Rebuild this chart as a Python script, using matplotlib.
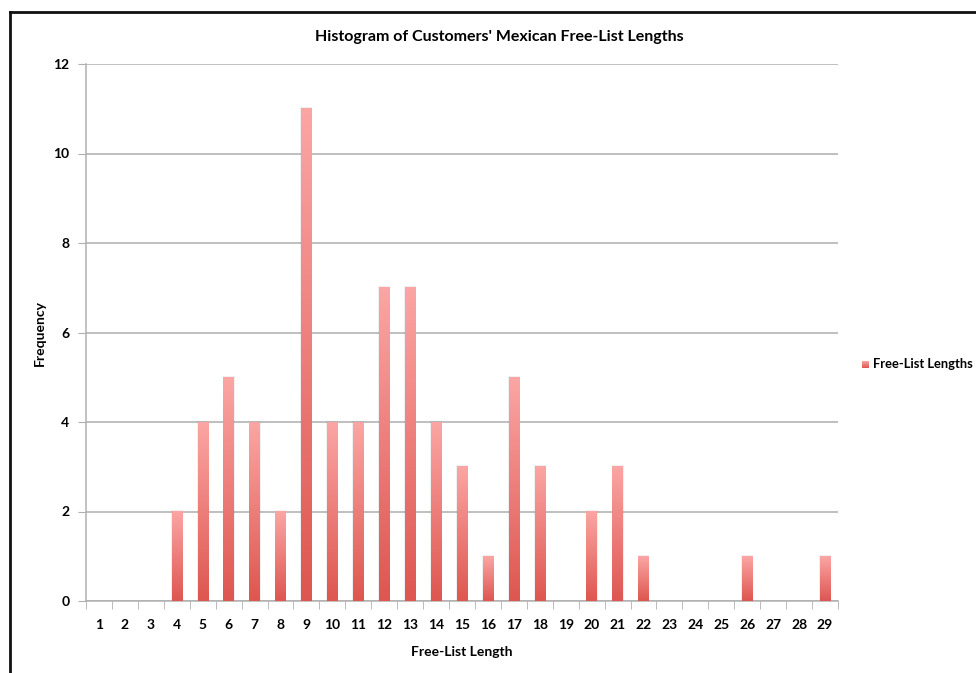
import numpy as np
import matplotlib
matplotlib.use("Agg")
import matplotlib.pyplot as plt
from matplotlib.lines import Line2D
from matplotlib.patches import Rectangle
from matplotlib.colors import LinearSegmentedColormap

# Free-list lengths and how many customers gave each length
lengths = list(range(1, 30))
frequency = [0, 0, 0, 2, 4, 5, 4, 2, 11, 4, 4, 7, 7, 4, 3, 1, 5, 3, 0, 2, 3, 1,
             0, 0, 0, 1, 0, 0, 1]
y_ticks = [0, 2, 4, 6, 8, 10, 12]

title = "Histogram of Customers' Mexican Free-List Lengths"
x_label = "Free-List Length"
y_label = "Frequency"
series_name = "Free-List Lengths"

plt.rcParams["font.family"] = ["Lato", "DejaVu Sans"]
plt.rcParams["font.weight"] = "bold"

W, H = 976, 673
fig = plt.figure(figsize=(W / 100, H / 100), dpi=100)
ax = fig.add_axes([86 / W, 1 - 601 / H, (838 - 86) / W, (601 - 64) / H])

grad = LinearSegmentedColormap.from_list("bar", ["#DE5650", "#FBA6A4"])
gradient = np.linspace(0, 1, 256).reshape(-1, 1)

bar_w = 0.4
n = len(lengths)
for i, (x, f) in enumerate(zip(lengths, frequency)):
    if f <= 0:
        continue
    ax.imshow(gradient, cmap=grad, origin="lower", aspect="auto",
              extent=(i - bar_w / 2, i + bar_w / 2, 0, f), zorder=3,
              interpolation="bilinear")
    ax.add_patch(Rectangle((i - bar_w / 2 - 0.03, 0), bar_w + 0.06, f + 0.03,
                           facecolor="#000000", alpha=0.06, linewidth=0, zorder=2))

ax.set_xlim(-0.5, n - 0.5)
ax.set_ylim(0, 12)
ax.set_yticks(y_ticks)
ax.set_yticklabels([str(v) for v in y_ticks], fontsize=10, fontweight="bold")
ax.set_xticks(range(n))
ax.set_xticklabels([str(v) for v in lengths], fontsize=10, fontweight="bold")
ax.set_xticks(np.arange(-0.5, n, 1), minor=True)
ax.tick_params(axis="x", which="major", length=0, pad=13)
ax.tick_params(axis="x", which="minor", length=6, color="#B0B0B0", direction="out")
ax.tick_params(axis="y", which="major", length=6, color="#B0B0B0", pad=6)

ax.grid(axis="y", color="#ADADAD", linewidth=1.1, zorder=0)
ax.set_axisbelow(True)
for side in ("top", "right"):
    ax.spines[side].set_visible(False)
ax.spines["left"].set_color("#B0B0B0")
ax.spines["bottom"].set_color("#B0B0B0")
ax.spines["left"].set_linewidth(1.1)
ax.spines["bottom"].set_linewidth(1.1)

fig.text(499 / W, 1 - 37 / H, title, fontsize=11.5, fontweight="bold",
         ha="center", va="center")
ax.set_xlabel(x_label, fontsize=10, fontweight="bold")
ax.set_ylabel(y_label, fontsize=10, fontweight="bold")
ax.xaxis.set_label_coords(0.5, (601 - 652) / 537)
ax.yaxis.set_label_coords((40 - 86) / 752, 0.5)
ax.xaxis.label.set_va("center")
ax.yaxis.label.set_va("center")

# Legend marker with the same gradient, placed to the right of the plot
lax = fig.add_axes([862 / W, 1 - 368 / H, 7 / W, 7 / H])
lax.imshow(gradient, cmap=grad, origin="lower", aspect="auto")
lax.axis("off")
fig.text(873 / W, 1 - 364 / H, series_name, fontsize=9.3, fontweight="bold",
         va="center", ha="left")

# Outer frame (top and left edges)
fig.add_artist(Line2D([10 / W, 1.0], [1 - 12 / H, 1 - 12 / H], color="#111111",
                      linewidth=2, transform=fig.transFigure))
fig.add_artist(Line2D([10 / W, 10 / W], [1 - 12 / H, 0.0], color="#111111",
                      linewidth=2, transform=fig.transFigure))

fig.savefig("out.png", dpi=100, facecolor="white")
